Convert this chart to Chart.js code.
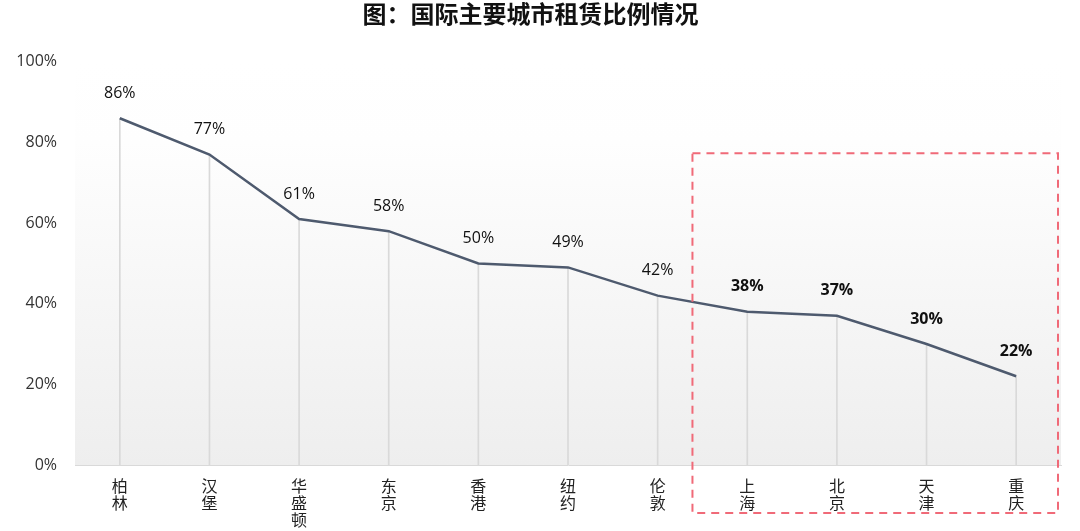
<!DOCTYPE html>
<html>
<head>
<meta charset="utf-8">
<script src="https://cdn.jsdelivr.net/npm/chart.js@4/dist/chart.umd.min.js"></script>
<style>
  html, body { margin: 0; padding: 0; background: #fff; }
  #wrap { width: 1080px; height: 531px; }
</style>
</head>
<body>
<div id="wrap"><canvas id="rentChart" width="1080" height="531"></canvas></div>
<script>
// Données
const cities = ['柏林', '汉堡', '华盛顿', '东京', '香港', '纽约', '伦敦', '上海', '北京', '天津', '重庆'];
const rentRatio = [86, 77, 61, 58, 50, 49, 42, 38, 37, 30, 22];
const yTicks = [0, 20, 40, 60, 80, 100];
const boldFrom = 7; // les villes chinoises sont en gras

const fontFamily = '"Open Sans", "Noto Sans CJK SC", sans-serif';

// Fond dégradé de la zone du graphique
const bgPlugin = {
    id: 'bgGradient',
    beforeDatasetsDraw(chart) {
        const { ctx, chartArea } = chart;
        const g = ctx.createLinearGradient(0, chartArea.top, 0, chartArea.bottom);
        g.addColorStop(0, 'rgba(255,255,255,1)');
        g.addColorStop(0.2, 'rgba(254,254,254,1)');
        g.addColorStop(1, 'rgba(238,238,238,1)');
        ctx.save();
        ctx.fillStyle = g;
        ctx.fillRect(chartArea.left, chartArea.top, chartArea.right - chartArea.left, chartArea.bottom - chartArea.top);
        ctx.restore();
    }
};

// Étiquettes des valeurs au-dessus des points
const labelPlugin = {
    id: 'valueLabels',
    afterDatasetsDraw(chart) {
        const { ctx } = chart;
        const meta = chart.getDatasetMeta(1);
        ctx.save();
        ctx.textAlign = 'center';
        ctx.textBaseline = 'middle';
        ctx.fillStyle = '#111';
        meta.data.forEach((pt, i) => {
            ctx.font = (i >= boldFrom ? 'bold ' : '') + '16px ' + fontFamily;
            ctx.fillText(rentRatio[i] + '%', pt.x, pt.y - 25);
        });
        ctx.restore();
    }
};

// Cadre pointillé rouge autour des villes chinoises
const boxPlugin = {
    id: 'dashBox',
    afterDraw(chart) {
        const { ctx, scales } = chart;
        const x0 = (scales.x.getPixelForValue(boldFrom - 1) + scales.x.getPixelForValue(boldFrom)) / 2 - 10;
        const x1 = scales.x.right - 3;
        const y0 = scales.y.getPixelForValue(77.3);
        const y1 = scales.y.bottom + 48;
        ctx.save();
        ctx.strokeStyle = '#f06a78';
        ctx.lineWidth = 2;
        ctx.setLineDash([8, 6]);
        ctx.strokeRect(x0, y0, x1 - x0, y1 - y0);
        ctx.restore();
    }
};

const ctx = document.getElementById('rentChart').getContext('2d');
const rentChart = new Chart(ctx, {
    type: 'bar',
    data: {
        labels: cities.map(c => c.split('')),
        datasets: [{
            // lignes verticales fines depuis chaque point
            type: 'bar',
            data: rentRatio,
            backgroundColor: '#d9d9d9',
            barThickness: 1,
            order: 2
        }, {
            type: 'line',
            data: rentRatio,
            borderColor: '#4e5a6e',
            borderWidth: 2.5,
            pointRadius: 0,
            tension: 0,
            order: 1
        }]
    },
    options: {
        responsive: false,
        animation: false,
        layout: { padding: { left: 0, right: 19, top: 0, bottom: 0 } },
        plugins: {
            legend: { display: false },
            tooltip: { enabled: false },
            title: {
                display: true,
                text: '图：国际主要城市租赁比例情况',
                color: '#111',
                font: { family: fontFamily, size: 24, weight: 'bold' },
                padding: { top: 2, bottom: 31 }
            }
        },
        scales: {
            x: {
                grid: { display: false },
                border: { display: true, color: '#d9d9d9' },
                ticks: {
                    color: '#222',
                    font: { family: fontFamily, size: 16, lineHeight: 1.06 },
                    maxRotation: 0,
                    autoSkip: false,
                    padding: 6
                },
                afterFit(scale) { scale.height = 66; }
            },
            y: {
                min: 0,
                max: 100,
                afterBuildTicks(scale) { scale.ticks = yTicks.map(v => ({ value: v })); },
                grid: { display: false },
                border: { display: false },
                ticks: {
                    color: '#333',
                    font: { family: fontFamily, size: 16 },
                    padding: 10,
                    callback: v => v + '%'
                },
                afterFit(scale) { scale.width = 75; }
            }
        }
    },
    plugins: [bgPlugin, labelPlugin, boxPlugin]
});
</script>
</body>
</html>
